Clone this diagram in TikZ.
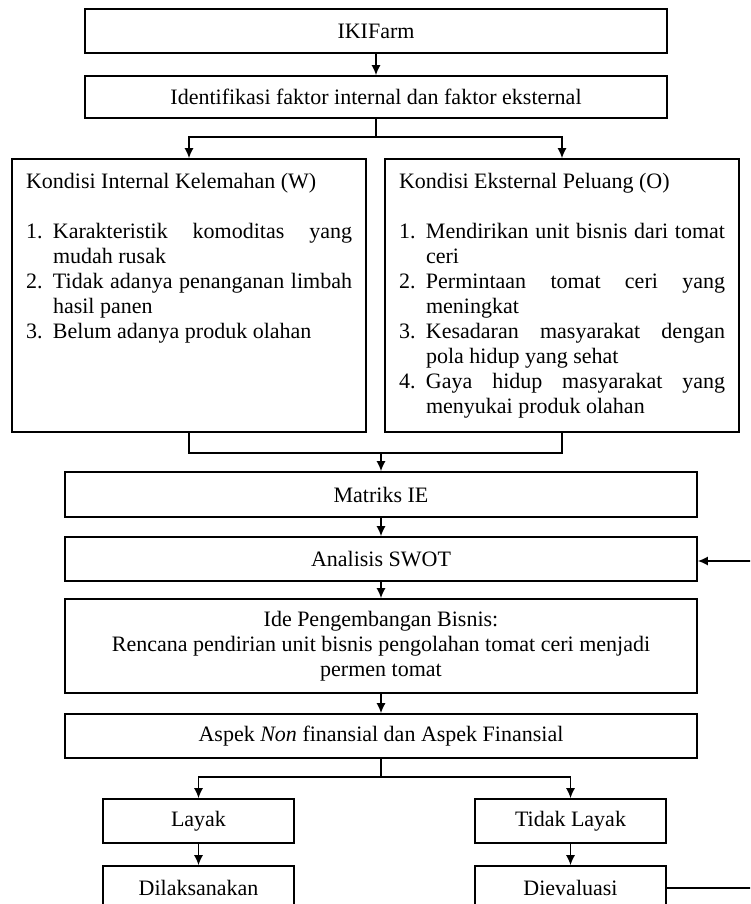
\documentclass[tikz,border=0pt]{standalone}
\usepackage{fontspec}
\setmainfont{Liberation Serif}
\usetikzlibrary{arrows.meta}
\newcommand{\litem}[1]{\par\hangindent=27pt\hangafter=1\noindent\makebox[27pt][l]{#1}}
\newcommand{\listbox}[2]{\parbox[c][273pt][t]{326pt}{\setlength{\parindent}{0pt}\tolerance=9999\emergencystretch=10pt\vspace*{14pt}#1\par\vspace{25pt}#2}}
\begin{document}
\begin{tikzpicture}[x=1pt,y=-1pt,
  font=\fontsize{22}{25}\selectfont,
  box/.style={draw, line width=1.6pt, inner sep=0pt, align=center},
  conn/.style={line width=1.5pt, -{Latex[length=10pt,width=9pt]}},
  plain/.style={line width=1.5pt}]
\useasboundingbox (0,0) rectangle (750,904);
\clip (0,0) rectangle (750,904);
\fill[white] (0,0) rectangle (750,904);

\node[box, minimum width=582pt, minimum height=44pt] (iki) at (376,31) {IKIFarm};
\node[box, minimum width=582pt, minimum height=42pt] (ident) at (376,97) {Identifikasi faktor internal dan faktor eksternal};

\node[draw, line width=1.6pt, inner xsep=14pt, inner ysep=0pt] (W) at (189,295.5) {\listbox{Kondisi Internal Kelemahan (W)}{%
\litem{1.}Karakteristik komoditas yang\linebreak mudah rusak
\litem{2.}Tidak adanya penanganan limbah\linebreak hasil panen
\litem{3.}Belum adanya produk olahan}};
\node[draw, line width=1.6pt, inner xsep=14pt, inner ysep=0pt] (O) at (562,295.5) {\listbox{Kondisi Eksternal Peluang (O)}{%
\litem{1.}Mendirikan unit bisnis dari tomat\linebreak ceri
\litem{2.}Permintaan tomat ceri yang\linebreak meningkat
\litem{3.}Kesadaran masyarakat dengan\linebreak pola hidup yang sehat
\litem{4.}Gaya hidup masyarakat yang\linebreak menyukai produk olahan}};

\node[box, minimum width=632pt, minimum height=45pt] (mat) at (381,494.5) {Matriks IE};
\node[box, minimum width=632pt, minimum height=44pt] (swot) at (381,559) {Analisis SWOT};
\node[box, minimum width=632pt, minimum height=94pt] (ide) at (381,646) {Ide Pengembangan Bisnis:\\Rencana pendirian unit bisnis pengolahan tomat ceri menjadi\\permen tomat};
\node[box, minimum width=632pt, minimum height=44pt] (asp) at (381,736) {Aspek \textit{Non} finansial dan Aspek Finansial};
\node[box, minimum width=191pt, minimum height=44pt] (lay) at (198.5,821) {Layak};
\node[box, minimum width=191pt, minimum height=44pt] (tlay) at (570.5,821) {Tidak Layak};
\node[box, minimum width=191pt, minimum height=44pt] (dil) at (198.5,888) {Dilaksanakan};
\node[box, minimum width=191pt, minimum height=44pt] (dev) at (570.5,888) {Dievaluasi};

\coordinate (s1) at (376,137);
\coordinate (m1) at (381,453);
\coordinate (s2) at (381,777);

\draw[conn] (iki) -- (ident);
\draw[plain] (ident) -- (s1);
\draw[conn] (s1) -| (W.north);
\draw[conn] (s1) -| (O.north);
\draw[plain] (W.south) |- (m1) -| (O.south);
\draw[conn] (m1) -- (mat.north);
\draw[conn] (mat) -- (swot);
\draw[conn] (swot) -- (ide);
\draw[conn] (ide) -- (asp);
\draw[plain] (asp) -- (s2);
\draw[conn] (s2) -| (lay.north);
\draw[conn] (s2) -| (tlay.north);
\draw[conn] (lay) -- (dil);
\draw[conn] (tlay) -- (dev);
\draw[conn] (dev.east) -- ++(120,0) |- ([yshift=-2pt]swot.east);
\end{tikzpicture}
\end{document}
